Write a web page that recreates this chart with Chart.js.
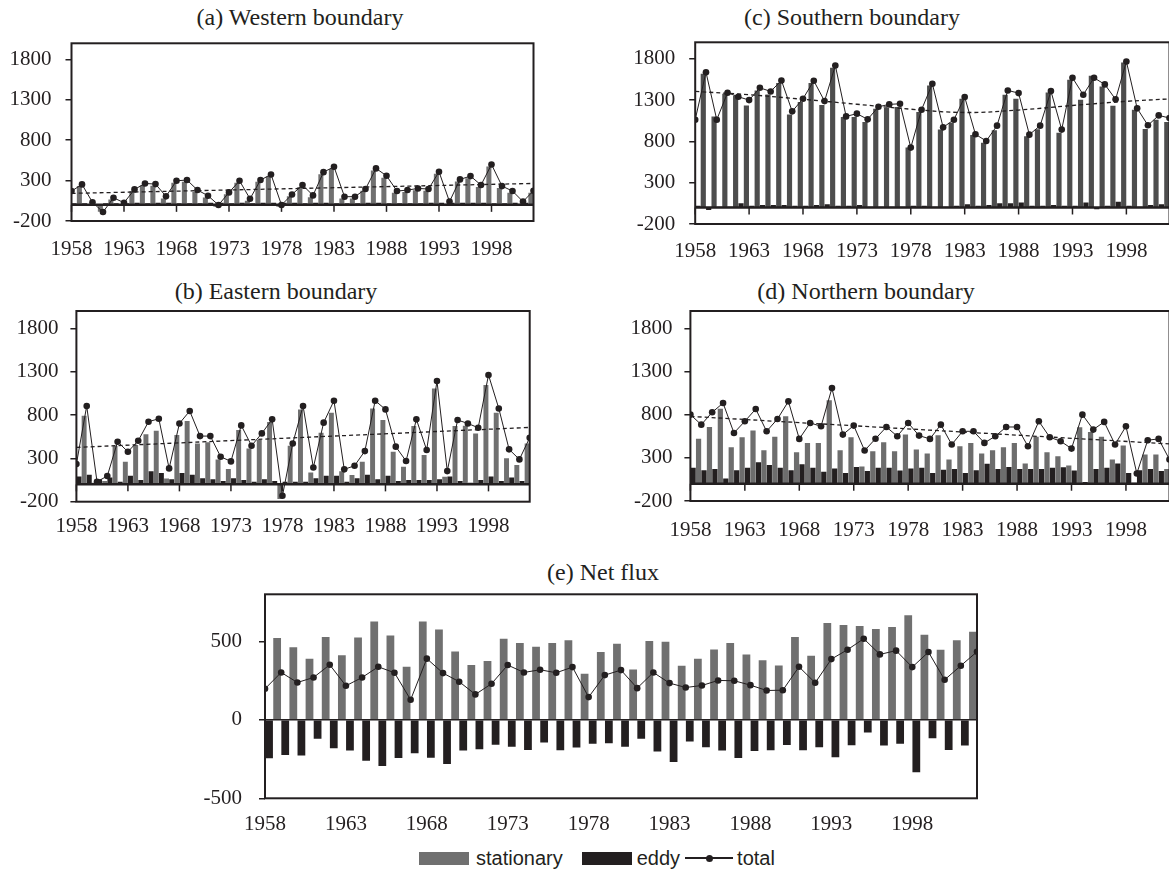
<!DOCTYPE html>
<html>
<head>
<meta charset="utf-8">
<script src="https://cdn.jsdelivr.net/npm/chart.js@4.4.1/dist/chart.umd.min.js"></script>
<style>
  html, body { margin: 0; padding: 0; background: #fff; overflow: hidden; }
  body { width: 1169px; height: 872px; position: relative; font-family: 'Liberation Serif', serif; color: #231f20; }
  .panel { position: absolute; }
  .title { position: absolute; width: 400px; height: 26px; line-height: 26px; text-align: center; font-size: 24px; white-space: nowrap; }
  #legend { position: absolute; left: 419px; top: 846px; height: 24px; display: flex; align-items: center;
            font-family: 'Liberation Sans', Arial, sans-serif; font-size: 20px; white-space: nowrap; }
  #legend .sw { display: inline-block; width: 50px; height: 13px; }
  #legend .ln { display: inline-block; position: relative; width: 48px; height: 1.5px; background: #231f20; }
  #legend .ln i { position: absolute; left: 20.5px; top: -2.75px; width: 7px; height: 7px; border-radius: 50%; background: #231f20; }
</style>
</head>
<body>
<div class="title" style="left:100px; top:4px;">(a) Western boundary</div>
<div class="title" style="left:652px; top:4px;">(c) Southern boundary</div>
<div class="title" style="left:76px; top:278px;">(b) Eastern boundary</div>
<div class="title" style="left:666px; top:278px;">(d) Northern boundary</div>
<div class="title" style="left:403px; top:559px;">(e) Net flux</div>

<div class="panel" style="left:0px; top:10px;"><canvas id="chartA" width="560" height="260"></canvas></div>
<div class="panel" style="left:600px; top:10px;"><canvas id="chartC" width="575" height="260"></canvas></div>
<div class="panel" style="left:0px; top:278px;"><canvas id="chartB" width="560" height="270"></canvas></div>
<div class="panel" style="left:600px; top:278px;"><canvas id="chartD" width="575" height="270"></canvas></div>
<div class="panel" style="left:180px; top:560px;"><canvas id="chartE" width="820" height="280"></canvas></div>

<div id="legend">
  <span class="sw" style="background:#707070; margin-right:7px;"></span><span style="margin-right:19px;">stationary</span>
  <span class="sw" style="background:#231f20; margin-right:5px;"></span><span style="margin-right:5px;">eddy</span>
  <span class="ln" style="margin-right:4px;"><i></i></span><span>total</span>
</div>

<script>
// Years (x categories)
const years = [1958, 1959, 1960, 1961, 1962, 1963, 1964, 1965, 1966, 1967,
               1968, 1969, 1970, 1971, 1972, 1973, 1974, 1975, 1976, 1977,
               1978, 1979, 1980, 1981, 1982, 1983, 1984, 1985, 1986, 1987,
               1988, 1989, 1990, 1991, 1992, 1993, 1994, 1995, 1996, 1997,
               1998, 1999, 2000, 2001, 2002];
const xTicks = [1958, 1963, 1968, 1973, 1978, 1983, 1988, 1993, 1998];
const boundaryTicks = [-200, 300, 800, 1300, 1800];
const netTicks = [-500, 0, 500];

// (a) Western boundary
const westStationary = [150, 232, 10, -85, 65, 5, 170, 240, 235, 80, 275, 285, 160, 90, -25, 130, 275, 50, 285, 350, -25, 105, 220, 95, 380, 445, 80, 80, 175, 425, 335, 150, 160, 180, 175, 385, 15, 290, 330, 220, 475, 210, 150, 15, 150];
const westEddy = [20, 20, 20, -5, 20, 20, 20, 25, 20, 25, 25, 20, 20, 20, 25, 25, 20, 25, 20, 25, 25, 25, 25, 20, 25, 25, 20, 20, 20, 25, 25, 20, 20, 20, 20, 25, 25, 25, 25, 25, 25, 20, 20, 25, 25];
const westTotal = [170, 253, 31, -89, 88, 26, 191, 265, 257, 105, 298, 307, 183, 113, -2, 154, 298, 75, 307, 376, -2, 129, 245, 117, 405, 471, 101, 101, 196, 451, 360, 171, 183, 203, 196, 409, 40, 315, 356, 245, 500, 232, 171, 40, 175];
const westTrendYears = [1958, 2002];
const westTrend = [142, 265];

// (b) Eastern boundary
const eastStationary = [200, 792, 20, 40, 442, 261, 454, 577, 619, 69, 569, 730, 472, 485, 288, 177, 627, 415, 511, 719, -170, 446, 865, 138, 596, 826, 150, 107, 261, 876, 742, 376, 203, 673, 338, 1107, 88, 673, 677, 588, 1146, 826, 300, 223, 472];
const eastEddy = [80, 90, 110, 60, 80, 30, 100, 50, 150, 130, 60, 130, 110, 70, 60, 40, 70, 50, 30, 60, 40, 30, 30, 30, 70, 100, 100, 30, 70, 110, 60, 100, 40, 50, 50, 50, 60, 90, 40, 20, 50, 90, 40, 80, 40];
const eastTotal = [234, 904, 31, 96, 492, 376, 503, 723, 757, 184, 703, 846, 557, 557, 319, 265, 680, 446, 588, 750, -131, 472, 904, 195, 712, 965, 173, 215, 384, 965, 865, 435, 269, 750, 396, 1192, 153, 742, 703, 653, 1262, 876, 404, 288, 538];
const eastTrendYears = [1958, 2002];
const eastTrend = [426, 657];

// (c) Southern boundary
const southStationary = [1050, 1619, 1103, 1378, 1354, 1236, 1417, 1369, 1506, 1127, 1276, 1506, 1240, 1691, 1095, 1095, 1035, 1196, 1208, 1216, 725, 1156, 1478, 943, 1027, 1317, 878, 785, 934, 1365, 1317, 862, 947, 1393, 906, 1546, 1305, 1595, 1466, 1232, 1756, 1184, 951, 1063, 1035];
const southEddy = [20, 20, -30, 10, 10, 50, 20, 30, 30, 30, 20, 20, 30, 40, 20, 20, 30, 10, 10, 10, 10, 20, 20, 10, 10, 20, 40, 20, 30, 50, 50, 60, 20, 20, 30, 20, 20, 60, -20, 20, 70, 20, 10, 30, 40];
const southTotal = [1063, 1638, 1063, 1389, 1341, 1300, 1449, 1405, 1538, 1164, 1317, 1534, 1288, 1719, 1103, 1136, 1067, 1220, 1248, 1256, 725, 1184, 1498, 970, 1063, 1337, 886, 805, 991, 1417, 1385, 882, 991, 1409, 943, 1570, 1365, 1570, 1490, 1309, 1768, 1200, 995, 1115, 1083];
const southTrendYears = [1958, 1963, 1968, 1973, 1978, 1983, 1988, 1993, 1998, 2002];
const southTrend = [1405, 1365, 1310, 1250, 1190, 1150, 1180, 1235, 1285, 1315];

// (d) Northern boundary
const northStationary = [500, 521, 657, 869, 423, 539, 616, 389, 543, 780, 365, 473, 473, 966, 389, 539, 200, 377, 481, 377, 569, 396, 350, 562, 280, 434, 473, 350, 389, 423, 473, 234, 543, 365, 319, 211, 654, 600, 543, 280, 442, 10, 339, 339, 170];
const northEddy = [184, 184, 157, 170, 61, 157, 184, 250, 216, 184, 157, 225, 184, 138, 177, 125, 195, 147, 184, 184, 154, 177, 184, 125, 163, 170, 125, 157, 231, 170, 195, 170, 170, 170, 184, 190, 154, 20, 170, 184, 235, 125, 157, 170, 147];
const northTotal = [800, 684, 827, 934, 588, 723, 865, 607, 750, 954, 519, 704, 665, 1107, 569, 673, 384, 521, 657, 550, 704, 557, 519, 684, 454, 607, 607, 473, 550, 657, 657, 434, 723, 539, 492, 407, 800, 627, 716, 454, 665, 119, 504, 519, 280];
const northTrendYears = [1958, 2002];
const northTrend = [780, 461];

// (e) Net flux
const netStationary = [520, 522, 462, 390, 528, 411, 524, 626, 538, 338, 626, 575, 436, 349, 375, 517, 490, 466, 490, 507, 294, 432, 485, 321, 502, 498, 345, 390, 449, 490, 417, 379, 347, 528, 409, 617, 605, 598, 579, 592, 666, 543, 447, 507, 562];
const netEddy = [-240, -245, -224, -228, -121, -181, -196, -260, -294, -243, -213, -241, -281, -196, -187, -158, -172, -192, -145, -194, -177, -153, -149, -172, -121, -202, -268, -138, -174, -196, -243, -198, -194, -160, -194, -174, -238, -162, -81, -164, -153, -334, -117, -192, -164];
const netTotal = [198, 302, 238, 270, 351, 217, 270, 338, 300, 128, 390, 298, 243, 162, 230, 349, 302, 319, 300, 336, 145, 285, 317, 202, 302, 234, 206, 219, 251, 249, 221, 187, 189, 338, 236, 387, 447, 517, 417, 441, 336, 432, 255, 345, 434];

const INK = '#231f20';
const SERIF = "'Liberation Serif', 'Times New Roman', serif";

// zero line, category tick marks and plot frame
const framePlugin = {
    id: 'frame',
    afterDatasetDraw(chart, args, opts) {
        if (args.index !== 2) return; // after the eddy bars
        const { ctx, chartArea: a, scales: { x, y } } = chart;
        const y0 = y.getPixelForValue(0);
        ctx.save();
        ctx.strokeStyle = INK;
        ctx.lineWidth = opts.zeroWidth;
        ctx.beginPath();
        ctx.moveTo(a.left, y0);
        ctx.lineTo(a.right, y0);
        ctx.stroke();
        if (opts.tickLen) {
            ctx.lineWidth = 1.5;
            xTicks.forEach(v => {
                const px = x.getPixelForValue(v);
                ctx.beginPath();
                ctx.moveTo(px, y0);
                ctx.lineTo(px, y0 + opts.tickLen);
                ctx.stroke();
            });
        }
        ctx.restore();
    },
    afterDatasetsDraw(chart) {
        const { ctx, chartArea: a } = chart;
        ctx.save();
        ctx.strokeStyle = INK;
        ctx.lineWidth = 2;
        ctx.strokeRect(a.left, a.top, a.right - a.left, a.bottom - a.top);
        ctx.restore();
    }
};

function buildPanel(id, p) {
    const canvas = document.getElementById(id);
    const box = canvas.parentNode;
    const boxLeft = parseFloat(box.style.left);
    const boxTop = parseFloat(box.style.top);
    const yWidth = p.area.left - boxLeft;
    const padTop = p.area.top - boxTop;
    const padRight = boxLeft + canvas.width - p.area.right;
    const xHeight = boxTop + canvas.height - p.area.bottom;

    const datasets = [
        {
            type: 'line', label: 'total',
            data: years.map((yr, i) => ({ x: yr, y: p.total[i] })),
            borderColor: INK, borderWidth: 1, tension: 0,
            pointRadius: 3.3, pointBackgroundColor: INK, pointBorderColor: INK, pointBorderWidth: 0
        },
        p.trend ? {
            type: 'line', label: 'trend',
            data: p.trendYears.map((yr, i) => ({ x: yr, y: p.trend[i] })),
            borderColor: INK, borderWidth: 1.3, borderDash: [4, 3], pointRadius: 0, tension: 0.4
        } : { type: 'line', label: 'trend', data: [] },
        {
            label: 'eddy',
            data: years.map((yr, i) => ({ x: yr - 0.5, y: p.eddy[i] })),
            backgroundColor: INK, categoryPercentage: 1, barPercentage: 0.96
        },
        {
            label: 'stationary',
            data: years.map((yr, i) => ({ x: yr - 0.5, y: p.stationary[i] })),
            backgroundColor: p.barColor, categoryPercentage: 1, barPercentage: 0.96
        }
    ];

    return new Chart(canvas, {
        type: 'bar',
        data: { datasets },
        plugins: [framePlugin],
        options: {
            responsive: false,
            animation: false,
            layout: { padding: { top: padTop, right: padRight, left: 0, bottom: 0 } },
            plugins: {
                legend: { display: false },
                tooltip: { enabled: false },
                frame: { zeroWidth: p.zeroWidth, tickLen: p.tickLen }
            },
            scales: {
                x: {
                    type: 'linear', min: 1958, max: 2002, offset: false,
                    afterBuildTicks: s => { s.ticks = xTicks.map(v => ({ value: v })); },
                    afterFit: s => { s.height = xHeight; },
                    grid: { display: false, drawTicks: false },
                    border: { display: false },
                    ticks: {
                        color: INK, font: { family: SERIF, size: 21 }, padding: p.labelPad,
                        maxRotation: 0, autoSkip: false, callback: v => String(v)
                    }
                },
                y: {
                    min: p.min, max: p.max,
                    afterBuildTicks: s => { s.ticks = p.yTicks.map(v => ({ value: v })); },
                    afterFit: s => { s.width = yWidth; },
                    grid: { drawOnChartArea: false, drawTicks: true, tickLength: 6, color: INK, lineWidth: 1.5 },
                    border: { display: false },
                    ticks: { color: INK, font: { family: SERIF, size: 21 }, padding: p.yPad, callback: v => String(v) }
                }
            }
        }
    });
}

buildPanel('chartA', {
    area: { left: 71.5, top: 43.3, right: 533.5, bottom: 221 },
    labelPad: 16, yPad: 14, min: -200, max: 2000, yTicks: boundaryTicks,
    stationary: westStationary, eddy: westEddy, total: westTotal,
    trendYears: westTrendYears, trend: westTrend,
    barColor: '#707070', zeroWidth: 2.5, tickLen: 7
});
buildPanel('chartC', {
    area: { left: 695.2, top: 42.3, right: 1169.5, bottom: 224 },
    labelPad: 15, yPad: 14, min: -200, max: 2000, yTicks: boundaryTicks,
    stationary: southStationary, eddy: southEddy, total: southTotal,
    trendYears: southTrendYears, trend: southTrend,
    barColor: '#4d4d4d', zeroWidth: 2.5, tickLen: 7
});
buildPanel('chartB', {
    area: { left: 76.4, top: 311, right: 529.7, bottom: 501.7 },
    labelPad: 12, yPad: 12, min: -200, max: 2000, yTicks: boundaryTicks,
    stationary: eastStationary, eddy: eastEddy, total: eastTotal,
    trendYears: eastTrendYears, trend: eastTrend,
    barColor: '#707070', zeroWidth: 2.5, tickLen: 7
});
buildPanel('chartD', {
    area: { left: 690.4, top: 311, right: 1169.5, bottom: 501 },
    labelPad: 17, yPad: 12, min: -200, max: 2000, yTicks: boundaryTicks,
    stationary: northStationary, eddy: northEddy, total: northTotal,
    trendYears: northTrendYears, trend: northTrend,
    barColor: '#6d6d6d', zeroWidth: 2.5, tickLen: 7
});
buildPanel('chartE', {
    area: { left: 265, top: 594.3, right: 977, bottom: 798.3 },
    labelPad: 14, yPad: 17, min: -500, max: 800, yTicks: netTicks,
    stationary: netStationary, eddy: netEddy, total: netTotal,
    trendYears: null, trend: null,
    barColor: '#707070', zeroWidth: 1.5, tickLen: 0
});
</script>
</body>
</html>
